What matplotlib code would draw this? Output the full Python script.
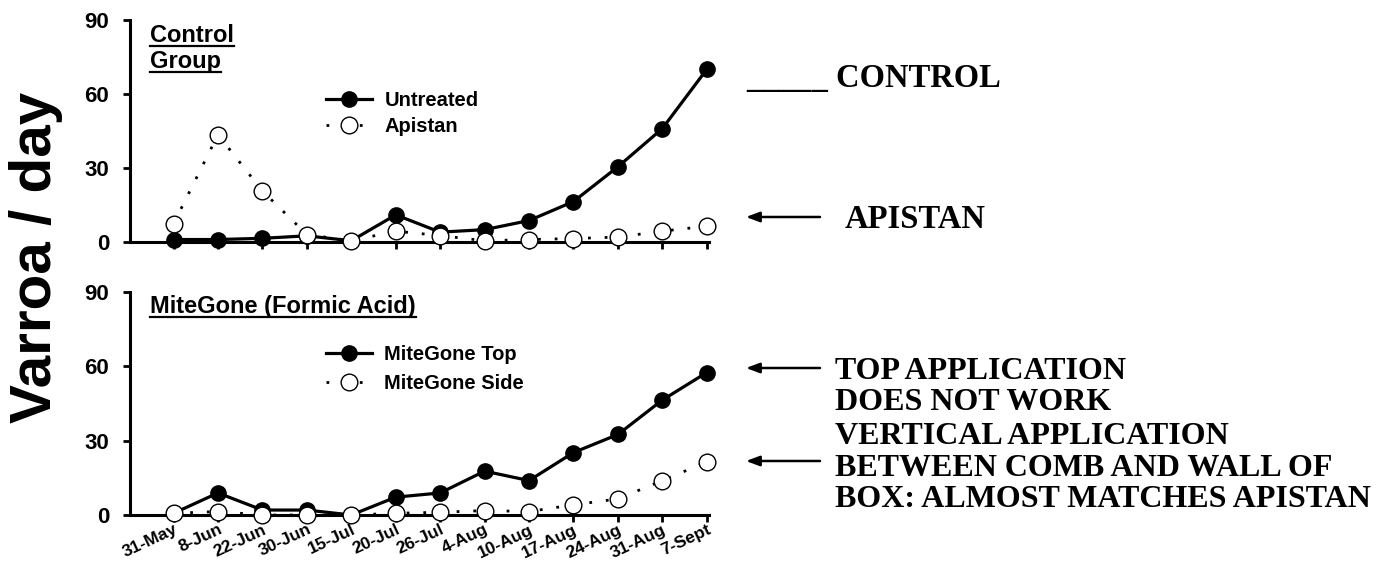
import matplotlib
matplotlib.use("Agg")
import matplotlib.pyplot as plt
from matplotlib.lines import Line2D

dates = ["31-May", "8-Jun", "22-Jun", "30-Jun", "15-Jul", "20-Jul", "26-Jul",
         "4-Aug", "10-Aug", "17-Aug", "24-Aug", "31-Aug", "7-Sept"]

untreated = [1, 1, 1.5, 2.5, 0.5, 11, 4, 5, 8.7, 16.4, 30.5, 46, 70]
apistan = [7.4, 43.5, 20.7, 3, 0.5, 4.4, 2.6, 0.5, 1, 1.4, 2, 4.4, 6.4]

mg_top = [0.7, 8.9, 2, 2, 0, 7.2, 8.9, 17.7, 13.9, 25.2, 32.5, 46.4, 57.5]
mg_side = [0.7, 1.4, 0, 0, 0, 0.7, 1.1, 1.8, 1.4, 4.1, 6.5, 13.9, 21.4]

yticks = [0, 30, 60, 90]

notes_lower = ["TOP APPLICATION", "DOES NOT WORK", "VERTICAL APPLICATION",
               "BETWEEN COMB AND WALL OF", "BOX: ALMOST MATCHES APISTAN"]

sans = "Liberation Sans"
serif = "Liberation Serif"

W, H = 1383, 563


def fx(px):
    return px / W


def fy(py):
    return 1 - py / H


fig = plt.figure(figsize=(W / 100, H / 100), dpi=100)
ax1 = fig.add_axes([fx(130), fy(242), fx(709) - fx(130), fy(20) - fy(242)])
ax2 = fig.add_axes([fx(130), fy(515), fx(709) - fx(130), fy(292) - fy(515)])

x = list(range(len(dates)))


def style_axis(ax, solid, dotted, names, lspace):
    ax.plot(x, solid, color="black", lw=2.3, marker="o", ms=11,
            mfc="black", mec="black", label=names[0], zorder=3, clip_on=False)
    ax.plot(x, dotted, color="black", lw=2.0, ls=(0, (1, 5)), marker="o",
            ms=12, mfc="white", mec="black", mew=1.0, label=names[1],
            zorder=4, clip_on=False)
    ax.set_xlim(-0.98, 12.05)
    ax.set_ylim(0, 90)
    ax.set_yticks(yticks)
    ax.set_xticks(x)
    for s in ["top", "right"]:
        ax.spines[s].set_visible(False)
    for s in ["left", "bottom"]:
        ax.spines[s].set_linewidth(2.2)
    ax.tick_params(axis="both", direction="out", width=2, length=5,
                   labelsize=16)
    ax.tick_params(axis="y", pad=10)
    for lab in ax.get_yticklabels():
        lab.set_fontfamily(sans)
        lab.set_fontweight("bold")
    leg = ax.legend(loc="upper left", frameon=False, handlelength=2.3,
                    handletextpad=0.6, labelspacing=lspace, borderpad=0,
                    borderaxespad=0,
                    prop={"family": sans, "weight": "bold", "size": 14.5})
    return leg


leg1 = style_axis(ax1, untreated, apistan, ["Untreated", "Apistan"], 0.35)
leg1.set_bbox_to_anchor((fx(326), fy(91)), transform=fig.transFigure)
leg2 = style_axis(ax2, mg_top, mg_side, ["MiteGone Top", "MiteGone Side"], 0.5)
leg2.set_bbox_to_anchor((fx(326), fy(345)), transform=fig.transFigure)

ax1.set_xticklabels([])
ax2.set_xticklabels(dates, rotation=25, ha="right", rotation_mode="anchor",
                    fontsize=12.5, fontweight="bold", fontfamily=sans)
ax2.tick_params(axis="x", pad=0)

# panel titles, underlined
titles = [("Control", 150, 42), ("Group", 150, 68),
          ("MiteGone (Formic Acid)", 150, 313)]
title_txt = []
for s, px, py in titles:
    t = fig.text(fx(px), fy(py), s, ha="left", va="baseline", fontsize=17,
                 fontweight="bold", fontfamily=sans)
    title_txt.append((t, py))

fig.text(fx(36), fy(257), "Varroa / day", rotation=90, ha="center",
         va="center", fontsize=42, fontweight="bold", fontfamily=sans)

# notes on the right
fig.text(fx(746), fy(87), "_____ CONTROL", ha="left", va="baseline",
         fontsize=23.5, fontweight="bold", fontfamily=serif)
fig.text(fx(845), fy(228), "APISTAN", ha="left", va="baseline",
         fontsize=23.5, fontweight="bold", fontfamily=serif)
baselines = [379, 410, 444, 476, 507]
for s, py in zip(notes_lower, baselines):
    fig.text(fx(835), fy(py), s, ha="left", va="baseline", fontsize=23,
             fontweight="bold", fontfamily=serif)

arrow_y = [217, 368, 461]
for ay in arrow_y:
    fig.add_artist(plt.Annotation("", xy=(fx(746), fy(ay)), xytext=(fx(820), fy(ay)),
                                  xycoords="figure fraction",
                                  textcoords="figure fraction",
                                  arrowprops=dict(arrowstyle="-|>,head_length=0.8,head_width=0.3",
                                                  color="black", lw=1.8,
                                                  shrinkA=0, shrinkB=0)))

# underline the panel titles
fig.canvas.draw()
renderer = fig.canvas.get_renderer()
for t, py in title_txt:
    bb = t.get_window_extent(renderer)
    fig.add_artist(Line2D([fx(bb.x0), fx(bb.x1)], [fy(py + 4), fy(py + 4)],
                          color="black", lw=1.6, transform=fig.transFigure))

fig.savefig("out.png", dpi=100)
